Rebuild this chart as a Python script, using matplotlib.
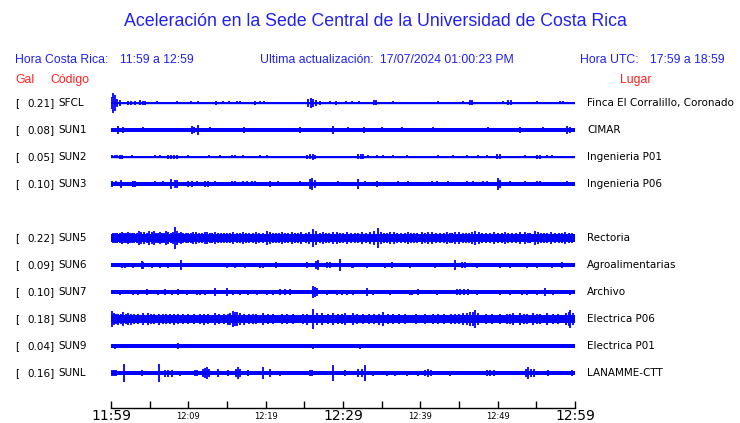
import matplotlib
matplotlib.use("Agg")
import matplotlib.pyplot as plt

W, H = 740, 423

TITLE = "Aceleración en la Sede Central de la Universidad de Costa Rica"
HORA_CR = "11:59 a 12:59"
HORA_UTC = "17:59 a 18:59"
UPDATED = "17/07/2024 01:00:23 PM"

codes = ["SFCL", "SUN1", "SUN2", "SUN3", "SUN5", "SUN6", "SUN7", "SUN8", "SUN9", "SUNL"]
gal = [0.21, 0.08, 0.05, 0.10, 0.22, 0.09, 0.10, 0.18, 0.04, 0.16]
places = ["Finca El Corralillo, Coronado", "CIMAR", "Ingenieria P01", "Ingenieria P06",
          "Rectoria", "Agroalimentarias", "Archivo", "Electrica P06", "Electrica P01",
          "LANAMME-CTT"]
rows = [0, 1, 2, 3, 5, 6, 7, 8, 9, 10]
# quiet-level half width of each trace (px)
base_px = [0.6, 1.7, 0.6, 1.8, 4.0, 1.8, 1.8, 3.8, 1.7, 1.7]

major_min = [0, 30, 60]
major_lbl = ["11:59", "12:29", "12:59"]
minor_min = [5, 10, 15, 20, 25, 35, 40, 45, 50, 55]
minor_lbl = ["", "12:09", "", "12:19", "", "", "12:39", "", "12:49", ""]

# (minutes after 11:59, half amplitude in px)
SFCL = [(0.0, 6), (0.26, 10), (0.52, 8), (0.78, 4), (1.16, 3), (2.2, 2), (2.6, 2), (3.1, 2),
        (3.75, 2.5), (4.1, 2), (4.4, 2), (5.9, 1.5), (8.5, 1.5), (10.3, 1.5), (11.3, 1.5),
        (13.6, 2), (14.5, 1.5), (15.3, 1.5), (16.3, 1.5), (16.7, 1.5), (18.6, 2), (19.3, 1.5),
        (19.8, 1.5), (25.5, 4), (25.9, 5), (26.1, 4), (26.5, 3), (27.0, 2), (28.3, 1.5),
        (29.1, 2), (30.4, 1.5), (31.2, 1.5), (32.1, 1.5), (34.0, 2.5), (34.3, 2.5), (36.5, 1.5),
        (42.3, 1.5), (45.5, 1.5), (46.4, 2.5), (46.7, 2.5), (50.7, 1.5), (51.3, 2.5),
        (51.7, 2.5), (55.1, 1.5), (58.1, 1.5), (58.5, 1.5)]
SUN1 = [(0.9, 4), (1.55, 3), (4.1, 2.5), (10.5, 4), (10.7, 3), (11.25, 5), (12.8, 2.5),
        (17.2, 3), (24.4, 3), (28.7, 4), (30.6, 2.5), (32.7, 3), (35.0, 2.5), (37.6, 2.5),
        (41.6, 2.5), (48.8, 2.5), (52.9, 3), (55.9, 2.5), (59.0, 4), (59.3, 3)]
SUN2 = [(0.1, 1.5), (0.5, 1.5), (0.8, 1.5), (1.2, 2), (1.4, 2), (2.7, 1.5), (5.7, 1.5),
        (6.3, 1.5), (7.4, 2), (7.8, 2), (8.1, 2), (8.5, 2), (10.0, 1.5), (12.7, 1.5),
        (14.1, 1.5), (15.6, 1.5), (16.0, 1.5), (17.1, 1.5), (19.3, 1.5), (20.2, 1.5),
        (25.3, 2), (25.7, 2.5), (26.1, 3), (26.4, 2), (31.9, 2.5), (32.3, 2.5), (32.6, 2.5),
        (33.2, 1.5), (34.4, 1.5), (35.2, 1.5), (36.5, 1.5), (38.3, 1.5), (42.3, 1.5),
        (44.2, 1.5), (46.0, 1.5), (47.5, 1.5), (48.6, 1.5), (49.9, 2.5), (50.3, 2.5),
        (53.5, 1.5), (55.1, 2), (55.5, 2), (56.4, 1.5), (57.0, 1.5)]
SUN3 = [(0.1, 3), (0.6, 2.5), (1.3, 4), (2.8, 3), (3.1, 3), (5.7, 2.5), (6.7, 2.5), (7.8, 5),
        (8.3, 4), (8.5, 4), (10.0, 3), (10.5, 3), (11.1, 2.5), (12.2, 3), (12.5, 3), (13.4, 2.5),
        (15.6, 2.5), (16.0, 2.5), (17.1, 2.5), (17.6, 2.5), (18.2, 2.5), (18.6, 2.5), (20.6, 3),
        (21.6, 2.5), (24.4, 2.5), (25.7, 5), (26.0, 6), (26.4, 4), (29.4, 2.5), (31.9, 5),
        (32.8, 2.5), (34.4, 3), (37.1, 2.5), (38.4, 2.5), (41.5, 2.5), (42.2, 2.5), (43.6, 2.5),
        (46.0, 2.5), (46.8, 2.5), (48.1, 2.5), (48.6, 2.5), (50.0, 6), (50.3, 4), (51.6, 2.5),
        (53.5, 2.5), (55.1, 2.5), (55.5, 2.5), (59.0, 2.5)]
SUN5 = [(0.3, 4.5), (0.8, 4.5), (1.4, 6), (2.0, 4.5), (2.5, 5), (3.0, 5), (3.6, 7), (4.3, 6),
        (4.9, 7), (5.6, 7), (6.1, 5), (6.6, 5), (7.1, 7), (7.7, 5), (8.3, 11), (8.8, 5),
        (9.3, 5), (10.0, 5), (10.6, 6), (11.4, 5), (12.4, 6), (13.1, 5), (13.8, 5), (14.6, 5),
        (15.4, 5), (16.7, 5), (17.5, 5), (18.3, 5), (19.2, 5), (20.2, 7), (21.0, 5), (21.7, 5),
        (22.5, 5), (23.4, 6), (24.2, 5), (25.2, 5), (26.1, 9), (27.0, 5), (27.8, 5), (28.7, 6),
        (30.0, 5), (31.0, 5), (32.0, 5), (33.0, 5), (34.5, 10), (35.3, 5), (36.1, 6), (37.0, 5),
        (38.0, 5), (38.8, 5), (39.6, 5), (41.0, 6), (42.0, 5), (43.0, 5), (43.8, 5), (44.5, 6),
        (45.5, 5), (46.3, 5), (47.1, 7), (48.0, 5), (49.0, 5), (50.0, 5), (51.3, 5), (52.4, 5),
        (53.5, 6), (54.2, 5), (54.8, 7), (55.6, 5), (56.4, 5), (57.4, 5), (58.3, 5), (59.2, 5),
        (0.55, 5), (1.1, 5), (1.7, 5.5), (2.25, 6), (2.75, 5.5), (3.3, 5), (3.9, 6), (4.6, 5.5),
        (5.25, 6), (5.85, 5.5), (6.35, 6), (6.85, 5.5), (7.4, 6), (8.0, 6), (8.55, 7),
        (9.05, 6), (9.65, 5.5), (10.3, 5.5), (11.0, 6), (11.8, 5), (12.1, 6), (12.75, 5.5),
        (13.45, 6), (14.2, 5.5), (15.0, 5.5), (15.8, 6), (16.3, 5.5), (17.1, 6), (17.9, 5.5),
        (18.7, 6), (19.7, 5.5), (20.6, 6), (21.4, 5.5), (22.1, 6), (22.9, 5.5), (23.8, 5.5),
        (24.6, 6), (25.6, 6), (26.5, 7), (27.4, 6), (28.2, 5.5), (29.2, 6), (29.6, 5.5),
        (30.5, 6), (31.5, 5.5), (32.5, 6), (33.5, 6), (34.0, 7), (34.9, 6), (35.7, 5.5),
        (36.6, 6), (37.5, 5.5), (38.4, 6), (39.2, 5.5), (40.2, 6), (40.6, 5.5), (41.5, 6),
        (42.5, 5.5), (43.4, 6), (44.1, 5.5), (45.0, 6), (45.9, 5.5), (46.7, 6), (47.6, 6),
        (48.5, 5.5), (49.5, 6), (50.5, 5.5), (50.9, 6), (51.8, 5.5), (52.9, 6), (53.9, 5.5),
        (55.2, 6), (56.0, 5.5), (56.9, 6), (57.9, 5.5), (58.7, 6), (59.6, 5.5)]
SUN6 = [(1.4, 2.5), (1.8, 2.5), (2.8, 2.5), (4.0, 4), (4.1, 3.5), (5.3, 2.5), (6.3, 2.5),
        (7.4, 2.5), (9.1, 5), (15.0, 2.5), (16.0, 2.5), (17.3, 2.5), (19.3, 2.5), (19.7, 2.5),
        (21.3, 3), (25.3, 3), (26.5, 4), (26.8, 5), (27.9, 3), (28.3, 3), (29.6, 6), (31.2, 2.5),
        (31.3, 2.5), (33.1, 2.5), (35.4, 2.5), (36.3, 3), (38.7, 2.5), (41.9, 2.5), (44.5, 5),
        (45.4, 3), (45.8, 3), (47.3, 2.5), (50.3, 2.5), (51.6, 2.5), (53.8, 2.5), (55.1, 2.5),
        (57.0, 2.5), (58.3, 3)]
SUN7 = [(1.2, 2.5), (2.8, 2.5), (3.5, 2.5), (4.7, 3), (6.1, 2.5), (7.0, 3), (7.9, 2.5),
        (8.7, 3), (9.8, 2.5), (11.1, 2.5), (11.5, 2.5), (12.2, 2.5), (13.4, 4), (15.0, 4),
        (15.8, 2.5), (16.7, 2.5), (17.7, 2.5), (18.9, 2.5), (20.2, 2.5), (20.9, 2.5), (21.9, 3),
        (22.5, 3), (23.1, 3), (26.1, 6), (26.4, 5), (26.6, 4), (27.9, 2.5), (29.2, 2.5),
        (29.9, 2.5), (30.5, 2.5), (31.3, 2.5), (33.1, 4), (33.9, 2.5), (36.1, 2.5), (38.7, 2.5),
        (38.9, 2.5), (39.7, 3), (42.2, 2.5), (44.7, 3), (45.1, 3), (45.6, 3), (46.2, 3),
        (47.3, 2.5), (50.3, 2.5), (51.6, 2.5), (53.1, 2.5), (53.8, 2.5), (55.1, 2.5), (56.1, 4),
        (57.2, 2.5), (59.4, 2.5)]
SUN8 = [(0.1, 8), (0.6, 5), (1.55, 7), (2.2, 6), (3.0, 5), (4.1, 6), (4.8, 6), (5.6, 5),
        (6.7, 5), (7.6, 5), (8.7, 5), (10.0, 5), (11.5, 5), (12.5, 5), (13.4, 6), (14.6, 5),
        (15.4, 6), (15.8, 8), (16.0, 7), (16.3, 7), (16.7, 6), (17.8, 5), (18.8, 5), (19.7, 6),
        (21.0, 5), (22.1, 5), (23.5, 5), (24.8, 5), (26.1, 10), (27.3, 6), (28.0, 5), (28.7, 6),
        (29.9, 5), (30.3, 6), (31.3, 6), (32.6, 5), (34.0, 5), (35.2, 7), (36.5, 5), (38.0, 5),
        (39.5, 5), (40.6, 5), (41.6, 5), (43.0, 5), (44.5, 5), (45.5, 6), (46.0, 6), (46.4, 7),
        (46.8, 7), (47.1, 9), (47.5, 6), (48.5, 5), (50.3, 5), (51.2, 5), (52.0, 6), (52.9, 6),
        (53.8, 5), (54.6, 6), (55.5, 5), (56.4, 6), (57.8, 5), (58.8, 6), (59.2, 7), (59.4, 9),
        (59.7, 6), (0.35, 6), (0.9, 5.5), (1.25, 5), (1.9, 5), (2.6, 5.5), (3.5, 5),
        (5.2, 5), (6.2, 5.5), (7.1, 5), (8.2, 5.5), (9.3, 5), (10.7, 5), (12.0, 5.5),
        (14.0, 5), (15.1, 5.5), (17.2, 5.5), (18.3, 5), (20.3, 5), (22.8, 5), (25.4, 5.5),
        (26.6, 6), (29.3, 5), (31.8, 5), (33.3, 5), (34.6, 5.5), (35.8, 5), (37.2, 5),
        (42.3, 5), (44.0, 5), (45.0, 5), (49.3, 5), (51.6, 5), (53.4, 5), (55.1, 5), (57.1, 5)]
SUN9 = [(0.5, 2.5), (5.4, 2), (8.7, 3), (17.1, 2), (20.6, 2), (20.9, 2), (24.1, 2), (26.1, 2.5),
        (28.3, 2), (29.6, 2), (32.2, 2.5), (32.6, 2), (35.4, 2), (37.1, 2), (38.7, 2), (42.2, 2),
        (44.9, 2), (46.7, 2), (48.8, 2), (51.6, 2), (53.8, 2), (56.4, 2)]
SUNL = [(0.1, 3), (0.4, 3), (0.6, 3), (1.7, 9), (4.0, 3), (6.2, 9), (7.0, 3.5), (7.4, 3.5),
        (7.9, 3.5), (8.9, 2.5), (10.9, 3), (11.1, 3), (11.9, 4), (12.2, 5), (12.4, 6), (12.7, 4),
        (13.8, 4), (15.1, 3), (16.2, 4), (16.4, 6), (16.7, 4), (17.7, 3), (19.7, 6), (20.6, 4),
        (21.9, 2.5), (25.7, 3), (26.0, 3), (28.7, 8), (29.6, 2), (30.3, 3), (31.9, 4), (32.5, 4),
        (32.8, 8), (33.9, 2.5), (35.7, 2.5), (36.7, 2.5), (38.3, 2.5), (39.7, 2.5), (40.6, 3),
        (41.0, 4), (41.4, 3), (43.8, 2.5), (48.6, 3), (49.0, 3), (49.5, 3), (53.6, 4), (53.9, 6),
        (54.3, 4), (54.7, 4), (56.5, 3), (59.6, 3)]
spikes = [SFCL, SUN1, SUN2, SUN3, SUN5, SUN6, SUN7, SUN8, SUN9, SUNL]

BLUE = "#0000ff"
TXT_BLUE = "#2020f0"
RED = "#ff2020"
ROW_PX = 27.0  # pixel distance between rows


def fpos(x, y):
    return x / W, 1 - y / H


fig = plt.figure(figsize=(W / 100, H / 100), dpi=100)
fig.patch.set_facecolor("white")

# traces axes: x = minutes, y = row index (row 0 sits at 103 px, axis line at 408 px)
ax_l, ax_r, ax_top, ax_bot = 111, 575, 88, 408
ax = fig.add_axes([ax_l / W, (H - ax_bot) / H, (ax_r - ax_l) / W, (ax_bot - ax_top) / H])
ax.set_xlim(0, 60)
ax.set_ylim((ax_bot - 103) / ROW_PX, (ax_top - 103) / ROW_PX)

for r, b, sp in zip(rows, base_px, spikes):
    ax.fill_between([0, 60], r - b / ROW_PX, r + b / ROW_PX, color=BLUE, lw=0)
    ax.plot([0, 60], [r, r], color=BLUE, lw=1.0)
    ts = [s[0] for s in sp]
    amp = [s[1] / ROW_PX for s in sp]
    ax.vlines(ts, [r - a for a in amp], [r + a for a in amp], color=BLUE, lw=1.3)

for side in ["top", "right", "left"]:
    ax.spines[side].set_visible(False)
ax.spines["bottom"].set_linewidth(1.0)
ax.set_yticks([])
ax.set_xticks(major_min)
ax.set_xticklabels(major_lbl, fontsize=10)
ax.set_xticks(minor_min, minor=True)
ax.set_xticklabels(minor_lbl, minor=True, fontsize=6)
ax.tick_params(axis="x", which="major", direction="in", length=5, width=1.0, pad=1.0)
ax.tick_params(axis="x", which="minor", direction="in", length=5, width=1.0, pad=3.0)
ax.patch.set_alpha(0)

# header texts
hdr = dict(color=TXT_BLUE, family="Liberation Sans", va="center")
fig.text(*fpos(375, 22), TITLE, fontsize=12.8, ha="center", **hdr)
fig.text(*fpos(15, 60), "Hora Costa Rica:", fontsize=8.8, ha="left", **hdr)
fig.text(*fpos(120, 60), HORA_CR, fontsize=8.8, ha="left", **hdr)
fig.text(*fpos(260, 60), "Ultima actualización:", fontsize=8.8, ha="left", **hdr)
fig.text(*fpos(380, 60), UPDATED, fontsize=8.8, ha="left", **hdr)
fig.text(*fpos(580, 60), "Hora UTC:", fontsize=8.8, ha="left", **hdr)
fig.text(*fpos(650, 60), HORA_UTC, fontsize=8.8, ha="left", **hdr)

red = dict(color=RED, family="Liberation Sans", va="center", fontsize=8.8)
fig.text(*fpos(15, 80), "Gal", ha="left", **red)
fig.text(*fpos(50, 80), "Código", ha="left", **red)
fig.text(*fpos(620, 80), "Lugar", ha="left", **red)

# station labels
lbl = dict(color="black", family="DejaVu Sans", va="center", fontsize=7.5)
for r, g, c, p in zip(rows, gal, codes, places):
    y = 103 + r * ROW_PX
    fig.text(*fpos(15, y), "[", ha="left", **lbl)
    fig.text(*fpos(55, y), f"{g:.2f}]", ha="right", **lbl)
    fig.text(*fpos(58, y), c, ha="left", **lbl)
    fig.text(*fpos(587, y), p, ha="left", **lbl)

fig.savefig("out.png", dpi=100)
